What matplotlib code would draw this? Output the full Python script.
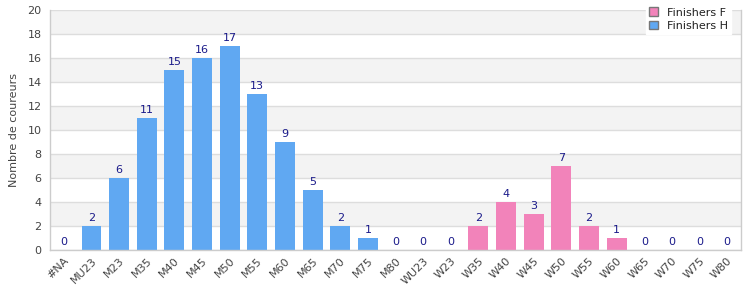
import matplotlib
matplotlib.use("Agg")
import matplotlib.pyplot as plt
import numpy as np

categories = ["#NA", "MU23", "M23", "M35", "M40", "M45", "M50", "M55", "M60", "M65",
              "M70", "M75", "M80", "WU23", "W23", "W35", "W40", "W45", "W50", "W55",
              "W60", "W65", "W70", "W75", "W80"]
finishers_h = [0, 2, 6, 11, 15, 16, 17, 13, 9, 5, 2, 1, 0,
               0, 0, 0, 0, 0, 0, 0, 0, 0, 0, 0, 0]
finishers_f = [0, 0, 0, 0, 0, 0, 0, 0, 0, 0, 0, 0, 0,
               0, 0, 2, 4, 3, 7, 2, 1, 0, 0, 0, 0]
y_ticks = [0, 2, 4, 6, 8, 10, 12, 14, 16, 18, 20]

col_h = "#60a8f2"
col_f = "#f283ba"

fig = plt.figure(figsize=(7.5, 3), dpi=100)
ax = fig.add_axes([0.0667, 0.1667, 0.9213, 0.8])

x = np.arange(len(categories))
h = np.array(finishers_h)
f = np.array(finishers_f)

# alternating bands
for i in range(0, 20, 2):
    if (i // 2) % 2 == 1:
        ax.axhspan(i, i + 2, color="#f3f3f3", zorder=0, lw=0)
for yt in y_ticks:
    ax.axhline(yt, color="#dddddd", lw=1, zorder=0.5)

bw = 0.72
ax.bar(x, f, width=bw, color=col_f, label="Finishers F", zorder=2)
ax.bar(x, h, width=bw, bottom=f, color=col_h, label="Finishers H", zorder=2)

tot = h + f
for xi, t in zip(x, tot):
    ax.text(xi, t + 0.25, str(t), ha="center", va="bottom", color="#1a1a8a",
            fontsize=8, zorder=3)

ax.set_xlim(-0.5, len(categories) - 0.5)
ax.set_ylim(0, 20)
ax.set_yticks(y_ticks)
ax.set_xticks(x)
ax.set_xticklabels(categories, rotation=45, ha="right", rotation_mode="anchor",
                   fontsize=8, color="#444444")
ax.tick_params(axis="y", labelsize=8, labelcolor="#444444", length=0, pad=6)
ax.tick_params(axis="x", length=0, pad=4)
ax.set_ylabel("Nombre de coureurs", fontsize=8, color="#444444", labelpad=6)

for s in ["top"]:
    ax.spines[s].set_visible(False)
for s in ["left", "bottom", "right"]:
    ax.spines[s].set_color("#cccccc")
    ax.spines[s].set_linewidth(1)

leg = fig.legend(loc="upper right", bbox_to_anchor=(0.982, 1.005), fontsize=8,
                 frameon=True, fancybox=False, framealpha=1, edgecolor="white",
                 handlelength=0.8, handleheight=0.8, handletextpad=0.8,
                 labelspacing=0.3, borderpad=0.3)
for p in leg.get_patches():
    p.set_edgecolor("#777777")
    p.set_linewidth(1)
for t in leg.get_texts():
    t.set_color("#222222")

fig.savefig("out.png", dpi=100)
